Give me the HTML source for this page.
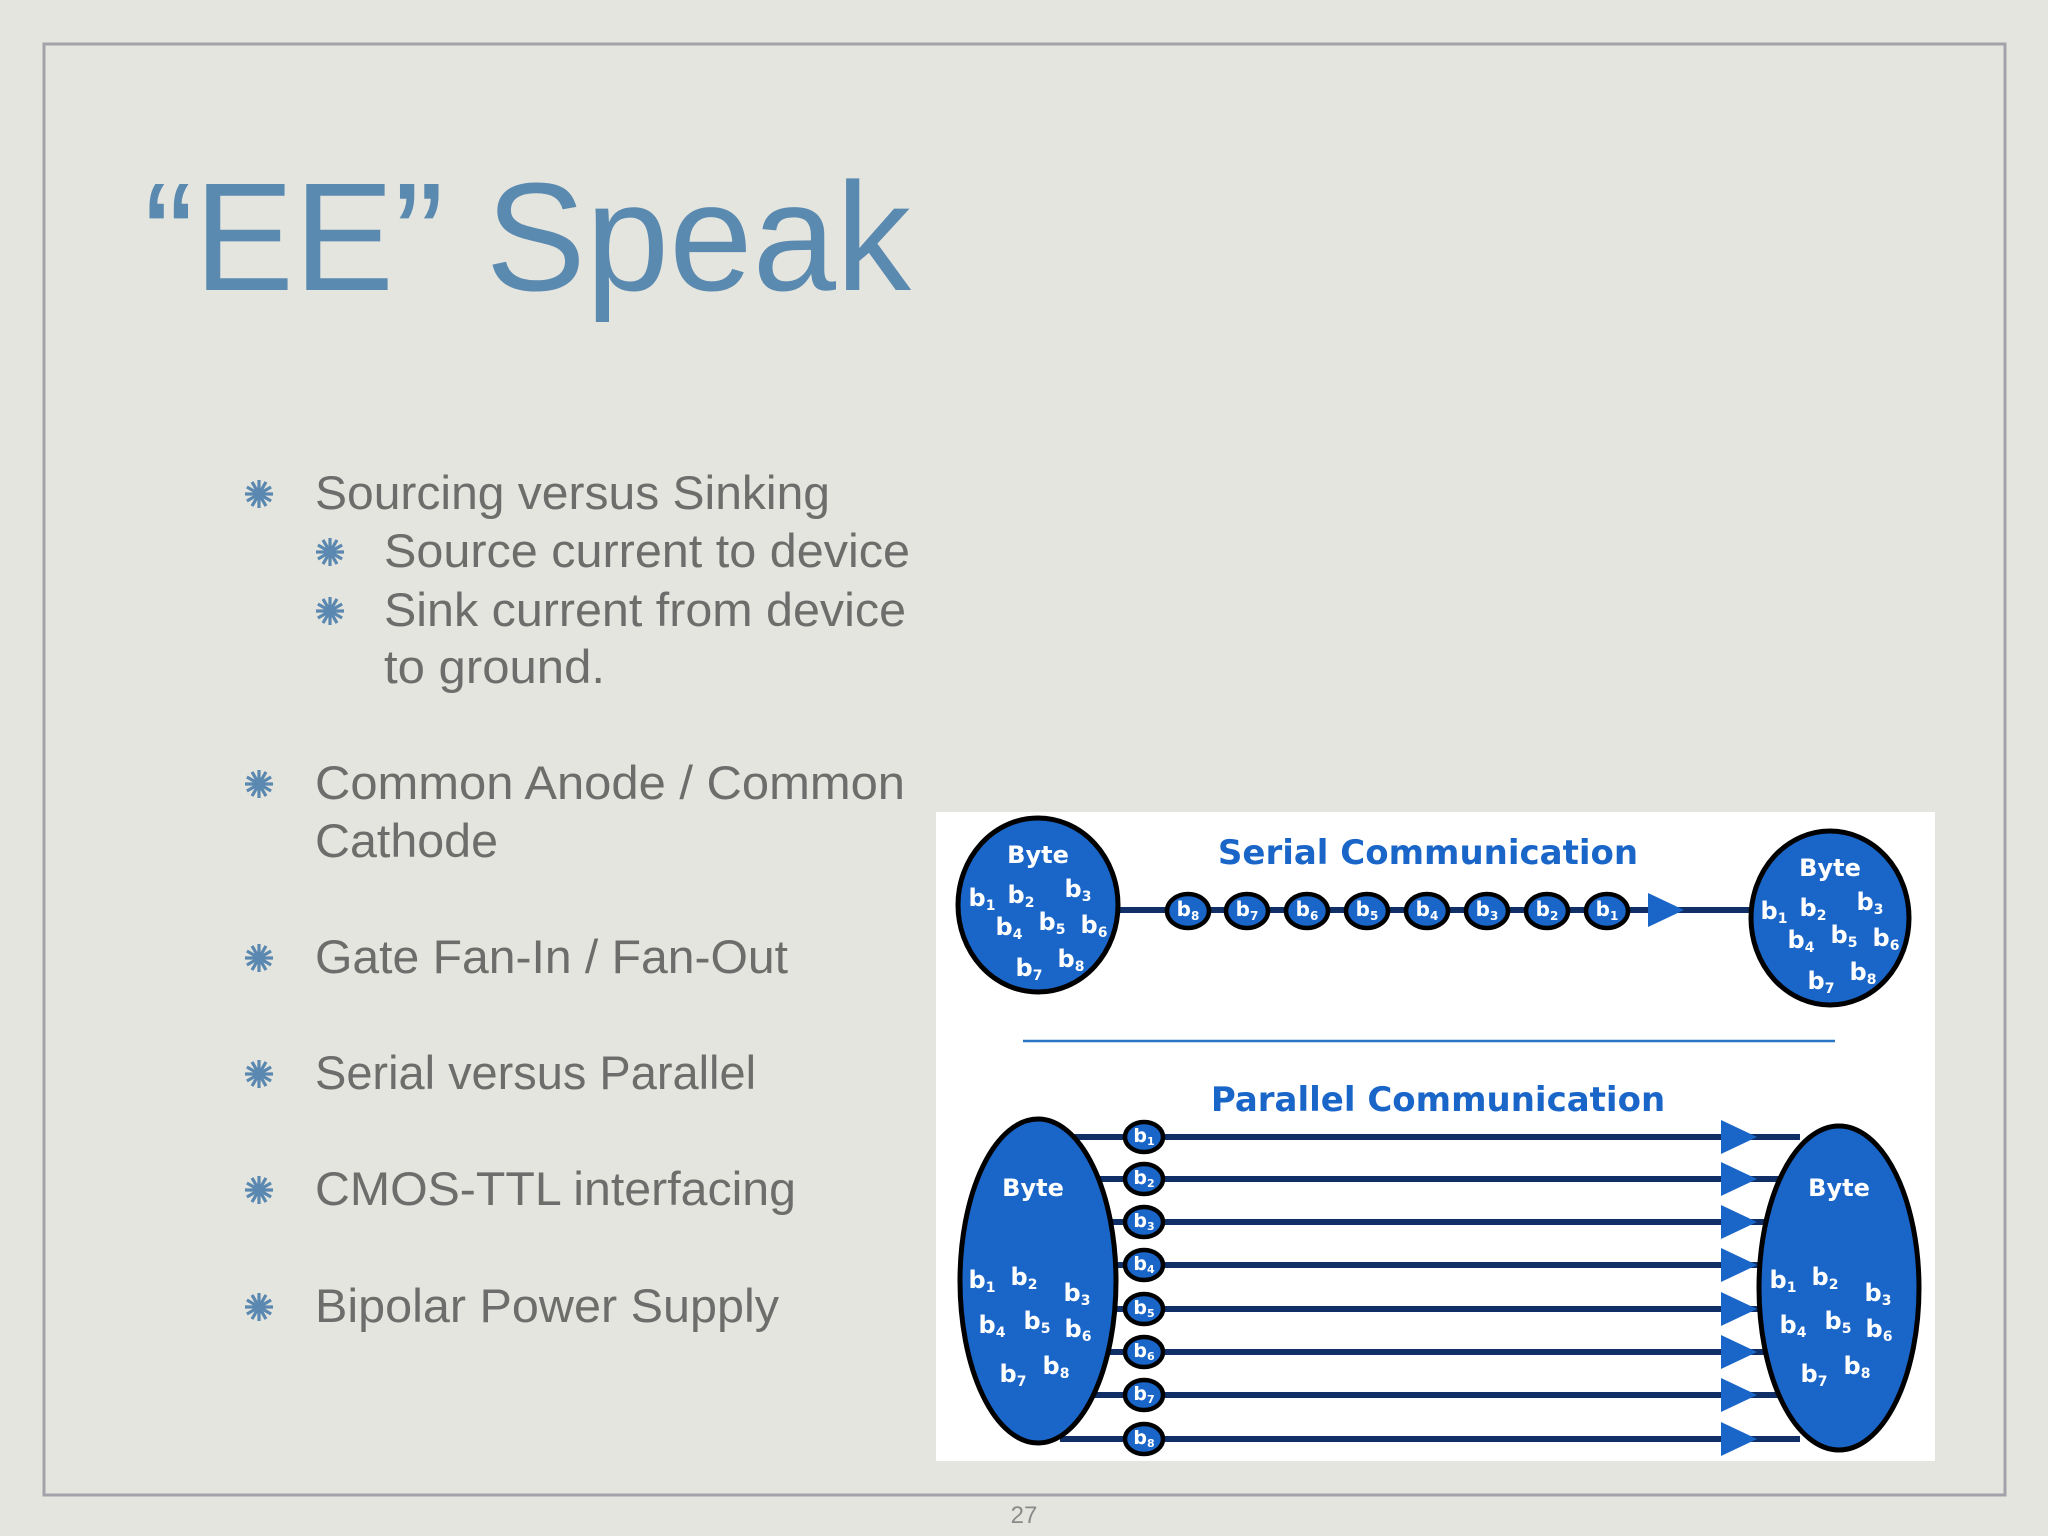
<!DOCTYPE html>
<html><head><meta charset="utf-8"><style>
html,body{margin:0;padding:0;background:#e5e5df;}
svg{display:block;}
.t{font-family:"Liberation Sans",sans-serif;}
.b{font-family:"DejaVu Sans","Liberation Sans",sans-serif;font-weight:bold;fill:#fff;}
.b tspan{baseline-shift:-30%;}
</style></head><body>
<svg width="2048" height="1536" viewBox="0 0 2048 1536" xmlns="http://www.w3.org/2000/svg">
<defs>
<g id="st" stroke="#5a88b0" stroke-width="3.2" stroke-linecap="butt">
<line x1="-14" y1="0" x2="14" y2="0"/><line x1="0" y1="-14" x2="0" y2="14"/>
<line x1="-12.1" y1="-7" x2="12.1" y2="7"/><line x1="-12.1" y1="7" x2="12.1" y2="-7"/>
<line x1="-7" y1="-12.1" x2="7" y2="12.1"/><line x1="-7" y1="12.1" x2="7" y2="-12.1"/>
</g>
<g id="arr"><polygon points="0,-17 36,0 0,17" fill="#1a66c8"/></g>
</defs>
<rect width="2048" height="1536" fill="#e5e5df"/>
<rect x="44" y="44" width="1961" height="1451" fill="none" stroke="#a2a2aa" stroke-width="3"/>
<text class="t" x="144" y="290" font-size="154" fill="#5b8ab0" textLength="767" lengthAdjust="spacingAndGlyphs">“EE” Speak</text>
<g class="t" font-size="47" fill="#6d6d6b">
<text x="315" y="509" textLength="515" lengthAdjust="spacingAndGlyphs">Sourcing versus Sinking</text>
<text x="384" y="567" textLength="526" lengthAdjust="spacingAndGlyphs">Source current to device</text>
<text x="384" y="626" textLength="522" lengthAdjust="spacingAndGlyphs">Sink current from device</text>
<text x="384" y="683" textLength="221" lengthAdjust="spacingAndGlyphs">to ground.</text>
<text x="315" y="799" textLength="590" lengthAdjust="spacingAndGlyphs">Common Anode / Common</text>
<text x="315" y="857" textLength="183" lengthAdjust="spacingAndGlyphs">Cathode</text>
<text x="315" y="973" textLength="473" lengthAdjust="spacingAndGlyphs">Gate Fan-In / Fan-Out</text>
<text x="315" y="1089" textLength="441" lengthAdjust="spacingAndGlyphs">Serial versus Parallel</text>
<text x="315" y="1205" textLength="481" lengthAdjust="spacingAndGlyphs">CMOS-TTL interfacing</text>
<text x="315" y="1322" textLength="464" lengthAdjust="spacingAndGlyphs">Bipolar Power Supply</text>
</g>
<use href="#st" x="259" y="494"/><use href="#st" x="330" y="552"/><use href="#st" x="330" y="611"/>
<use href="#st" x="259" y="784"/><use href="#st" x="259" y="958"/><use href="#st" x="259" y="1074"/>
<use href="#st" x="259" y="1190"/><use href="#st" x="259" y="1307"/>
<text class="t" x="1024" y="1523" font-size="24" fill="#8a8a8a" text-anchor="middle">27</text>

<rect x="936" y="812" width="999" height="649" fill="#ffffff"/>
<text class="b" x="1428" y="864" font-size="34" text-anchor="middle" style="fill:#1a66c8">Serial Communication</text>
<line x1="1120" y1="910" x2="1755" y2="910" stroke="#0f2f66" stroke-width="6"/>
<use href="#arr" x="1648" y="910"/>
<g stroke="#000" stroke-width="4.5" fill="#1a66c8">
<ellipse cx="1188" cy="911" rx="21" ry="17"/><ellipse cx="1247" cy="911" rx="21" ry="17"/>
<ellipse cx="1307" cy="911" rx="21" ry="17"/><ellipse cx="1367" cy="911" rx="21" ry="17"/>
<ellipse cx="1427" cy="911" rx="21" ry="17"/><ellipse cx="1487" cy="911" rx="21" ry="17"/>
<ellipse cx="1547" cy="911" rx="21" ry="17"/><ellipse cx="1607" cy="911" rx="21" ry="17"/>
</g>
<g class="b" font-size="20" text-anchor="middle">
<text x="1188" y="916">b<tspan font-size="12">8</tspan></text><text x="1247" y="916">b<tspan font-size="12">7</tspan></text>
<text x="1307" y="916">b<tspan font-size="12">6</tspan></text><text x="1367" y="916">b<tspan font-size="12">5</tspan></text>
<text x="1427" y="916">b<tspan font-size="12">4</tspan></text><text x="1487" y="916">b<tspan font-size="12">3</tspan></text>
<text x="1547" y="916">b<tspan font-size="12">2</tspan></text><text x="1607" y="916">b<tspan font-size="12">1</tspan></text>
</g>
<g stroke="#000" stroke-width="5" fill="#1a66c8">
<ellipse cx="1038" cy="905" rx="80" ry="87"/>
<ellipse cx="1830" cy="918" rx="79" ry="87"/>
</g>
<g class="b" font-size="24" text-anchor="middle">
<g transform="translate(1038,905)">
<text x="0" y="-42">Byte</text>
<text x="-56" y="1">b<tspan font-size="14">1</tspan></text><text x="-17" y="-2">b<tspan font-size="14">2</tspan></text><text x="40" y="-8">b<tspan font-size="14">3</tspan></text>
<text x="-29" y="30">b<tspan font-size="14">4</tspan></text><text x="14" y="25">b<tspan font-size="14">5</tspan></text><text x="56" y="28">b<tspan font-size="14">6</tspan></text>
<text x="-9" y="71">b<tspan font-size="14">7</tspan></text><text x="33" y="62">b<tspan font-size="14">8</tspan></text>
</g>
<g transform="translate(1830,918)">
<text x="0" y="-42">Byte</text>
<text x="-56" y="1">b<tspan font-size="14">1</tspan></text><text x="-17" y="-2">b<tspan font-size="14">2</tspan></text><text x="40" y="-8">b<tspan font-size="14">3</tspan></text>
<text x="-29" y="30">b<tspan font-size="14">4</tspan></text><text x="14" y="25">b<tspan font-size="14">5</tspan></text><text x="56" y="28">b<tspan font-size="14">6</tspan></text>
<text x="-9" y="71">b<tspan font-size="14">7</tspan></text><text x="33" y="62">b<tspan font-size="14">8</tspan></text>
</g>
</g>
<line x1="1023" y1="1041" x2="1835" y2="1041" stroke="#2a74c4" stroke-width="2.5"/>
<text class="b" x="1438" y="1111" font-size="34" text-anchor="middle" style="fill:#1a66c8">Parallel Communication</text>
<g stroke="#0f2f66" stroke-width="6">
<line x1="1060" y1="1137" x2="1800" y2="1137"/><line x1="1060" y1="1179" x2="1800" y2="1179"/>
<line x1="1060" y1="1222" x2="1800" y2="1222"/><line x1="1060" y1="1265" x2="1800" y2="1265"/>
<line x1="1060" y1="1309" x2="1800" y2="1309"/><line x1="1060" y1="1352" x2="1800" y2="1352"/>
<line x1="1060" y1="1395" x2="1800" y2="1395"/><line x1="1060" y1="1439" x2="1800" y2="1439"/>
</g>
<use href="#arr" x="1721" y="1137"/><use href="#arr" x="1721" y="1179"/><use href="#arr" x="1721" y="1222"/>
<use href="#arr" x="1721" y="1265"/><use href="#arr" x="1721" y="1309"/><use href="#arr" x="1721" y="1352"/>
<use href="#arr" x="1721" y="1395"/><use href="#arr" x="1721" y="1439"/>
<g stroke="#000" stroke-width="5" fill="#1a66c8">
<ellipse cx="1038" cy="1281" rx="78" ry="162"/>
<ellipse cx="1839" cy="1288" rx="80" ry="162"/>
</g>
<g stroke="#000" stroke-width="4.5" fill="#1a66c8">
<ellipse cx="1144" cy="1137" rx="19" ry="15"/><ellipse cx="1144" cy="1179" rx="19" ry="15"/>
<ellipse cx="1144" cy="1222" rx="19" ry="15"/><ellipse cx="1144" cy="1265" rx="19" ry="15"/>
<ellipse cx="1144" cy="1309" rx="19" ry="15"/><ellipse cx="1144" cy="1352" rx="19" ry="15"/>
<ellipse cx="1144" cy="1395" rx="19" ry="15"/><ellipse cx="1144" cy="1439" rx="19" ry="15"/>
</g>
<g class="b" font-size="19" text-anchor="middle">
<text x="1144" y="1142">b<tspan font-size="11">1</tspan></text><text x="1144" y="1184">b<tspan font-size="11">2</tspan></text>
<text x="1144" y="1227">b<tspan font-size="11">3</tspan></text><text x="1144" y="1270">b<tspan font-size="11">4</tspan></text>
<text x="1144" y="1314">b<tspan font-size="11">5</tspan></text><text x="1144" y="1357">b<tspan font-size="11">6</tspan></text>
<text x="1144" y="1400">b<tspan font-size="11">7</tspan></text><text x="1144" y="1444">b<tspan font-size="11">8</tspan></text>
</g>
<g class="b" font-size="24" text-anchor="middle">
<g transform="translate(1038,1281)">
<text x="-5" y="-85">Byte</text>
<text x="-56" y="7">b<tspan font-size="14">1</tspan></text><text x="-14" y="4">b<tspan font-size="14">2</tspan></text><text x="39" y="20">b<tspan font-size="14">3</tspan></text>
<text x="-46" y="52">b<tspan font-size="14">4</tspan></text><text x="-1" y="48">b<tspan font-size="14">5</tspan></text><text x="40" y="56">b<tspan font-size="14">6</tspan></text>
<text x="-25" y="101">b<tspan font-size="14">7</tspan></text><text x="18" y="93">b<tspan font-size="14">8</tspan></text>
</g>
<g transform="translate(1839,1288)">
<text x="0" y="-92">Byte</text>
<text x="-56" y="0">b<tspan font-size="14">1</tspan></text><text x="-14" y="-3">b<tspan font-size="14">2</tspan></text><text x="39" y="13">b<tspan font-size="14">3</tspan></text>
<text x="-46" y="45">b<tspan font-size="14">4</tspan></text><text x="-1" y="41">b<tspan font-size="14">5</tspan></text><text x="40" y="49">b<tspan font-size="14">6</tspan></text>
<text x="-25" y="94">b<tspan font-size="14">7</tspan></text><text x="18" y="86">b<tspan font-size="14">8</tspan></text>
</g>
</g>
</svg>
</body></html>
